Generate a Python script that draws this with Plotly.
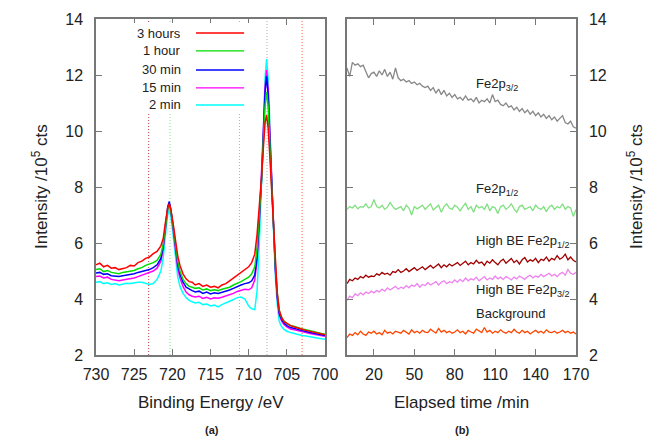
import plotly.graph_objects as go

# ---------------- data: panel (a) XPS spectra ----------------
energy = [730, 729.5, 729, 728.5, 728, 727.5, 727, 726.5, 726, 725.5,
          725, 724.5, 724, 723.5, 723, 722.5, 722, 721.5, 721.2, 720.9,
          720.6, 720.4, 720.2, 719.9, 719.6, 719.3, 719, 718.6, 718.2, 717.8,
          717.4, 717, 716.5, 716, 715.5, 715, 714.5, 714, 713.5, 713,
          712.5, 712, 711.5, 711, 710.5, 710, 709.6, 709.2, 708.9, 708.6,
          708.3, 708.05, 707.85, 707.65, 707.45, 707.25, 707.0, 706.75, 706.5, 706.25,
          706.0, 705.7, 705.4, 705.0, 704.5, 704, 703.5, 703, 702.5, 702,
          701.5, 701, 700.5, 700]

spec_3h = [5.22, 5.28, 5.15, 5.20, 5.10, 5.12, 5.05, 5.08, 5.12, 5.20,
           5.18, 5.30, 5.35, 5.45, 5.50, 5.62, 5.70, 5.90, 6.15, 6.75,
           7.25, 7.40, 7.20, 6.70, 6.10, 5.55, 5.20, 4.90, 4.72, 4.62,
           4.60, 4.50, 4.55, 4.45, 4.50, 4.42, 4.45, 4.40, 4.50, 4.55,
           4.65, 4.75, 4.85, 4.95, 5.05, 5.15, 5.30, 5.60, 6.30, 7.30,
           8.40, 9.50, 10.30, 10.57, 10.10, 9.20, 7.90, 6.60, 5.20, 4.20,
           3.60, 3.35, 3.20, 3.12, 3.05, 3.00, 2.95, 2.92, 2.88, 2.85,
           2.82, 2.78, 2.76, 2.72]
spec_1h = [5.05, 5.08, 4.98, 5.02, 4.95, 4.93, 4.90, 4.95, 4.98, 5.00,
           5.02, 5.08, 5.12, 5.20, 5.25, 5.30, 5.38, 5.60, 5.95, 6.60,
           7.20, 7.35, 7.15, 6.60, 5.95, 5.35, 5.00, 4.70, 4.55, 4.45,
           4.42, 4.38, 4.40, 4.32, 4.36, 4.30, 4.33, 4.30, 4.35, 4.38,
           4.42, 4.50, 4.55, 4.62, 4.70, 4.78, 4.90, 5.15, 5.80, 7.00,
           8.30, 9.80, 10.90, 11.40, 10.90, 9.60, 8.10, 6.70, 5.20, 4.20,
           3.60, 3.35, 3.22, 3.12, 3.05, 3.02, 2.97, 2.93, 2.90, 2.86,
           2.83, 2.80, 2.77, 2.74]
spec_30m = [4.93, 4.95, 4.88, 4.90, 4.83, 4.82, 4.80, 4.83, 4.85, 4.88,
            4.90, 4.95, 4.98, 5.02, 5.05, 5.12, 5.22, 5.45, 5.85, 6.60,
            7.30, 7.48, 7.20, 6.60, 5.90, 5.25, 4.90, 4.60, 4.42, 4.35,
            4.30, 4.25, 4.28, 4.20, 4.25, 4.18, 4.22, 4.20, 4.24, 4.27,
            4.32, 4.38, 4.45, 4.50, 4.55, 4.58, 4.65, 4.85, 5.50, 6.80,
            8.30, 10.00, 11.40, 11.95, 11.30, 9.90, 8.20, 6.70, 5.10, 4.10,
            3.50, 3.28, 3.15, 3.05, 2.98, 2.95, 2.90, 2.87, 2.84, 2.80,
            2.78, 2.75, 2.72, 2.70]
spec_15m = [4.80, 4.82, 4.75, 4.78, 4.70, 4.68, 4.65, 4.68, 4.70, 4.72,
            4.75, 4.80, 4.85, 4.90, 4.93, 5.00, 5.10, 5.35, 5.80, 6.55,
            7.25, 7.40, 7.15, 6.50, 5.80, 5.10, 4.75, 4.45, 4.25, 4.15,
            4.10, 4.07, 4.10, 4.02, 4.06, 4.00, 4.04, 4.03, 4.06, 4.10,
            4.15, 4.20, 4.27, 4.32, 4.35, 4.33, 4.40, 4.68, 5.40, 6.80,
            8.40, 10.20, 11.60, 12.18, 11.50, 10.00, 8.20, 6.60, 5.00, 4.00,
            3.45, 3.22, 3.10, 3.00, 2.93, 2.90, 2.86, 2.82, 2.80, 2.77,
            2.74, 2.72, 2.70, 2.67]
spec_2m = [4.60, 4.62, 4.55, 4.58, 4.52, 4.55, 4.50, 4.54, 4.56, 4.55,
           4.58, 4.60, 4.60, 4.55, 4.52, 4.55, 4.70, 5.00, 5.45, 6.30,
           7.00, 7.18, 6.95, 6.30, 5.50, 4.80, 4.45, 4.20, 4.05, 3.95,
           3.90, 3.86, 3.88, 3.80, 3.82, 3.75, 3.78, 3.72, 3.80, 3.85,
           3.92, 3.98, 4.05, 4.07, 4.00, 3.75, 3.65, 3.62, 4.30, 6.00,
           8.00, 10.20, 11.90, 12.57, 11.90, 10.20, 8.30, 6.50, 4.80, 3.80,
           3.20, 3.02, 2.92, 2.85, 2.80, 2.76, 2.72, 2.70, 2.68, 2.65,
           2.63, 2.60, 2.58, 2.56]

spec_names = ["3 hours", "1 hour", "30 min", "15 min", "2 min"]
spec_colors = ["#ff0000", "#00dd00", "#0000ff", "#ff00ff", "#00ffff"]
spectra = [spec_3h, spec_1h, spec_30m, spec_15m, spec_2m]

vline_energy = [723.1, 720.3, 711.2, 707.6, 703.0]
vline_colors = ["#c04848", "#80e080", "#e890e8", "#b0b0b0", "#ff6040"]

# ---------------- data: panel (b) time series ----------------
elapsed = list(range(0, 171, 2))

fe2p32 = [12.25, 11.95, 12.45, 12.35, 12.40, 12.30, 12.35, 12.15, 11.90, 12.05,
          12.10, 11.95, 12.15, 12.00, 12.20, 11.95, 12.10, 11.85, 12.25, 11.90,
          11.80, 11.85, 11.75, 11.80, 11.70, 11.75, 11.65, 11.70, 11.60, 11.55,
          11.60, 11.45, 11.55, 11.35, 11.50, 11.30, 11.45, 11.25, 11.35, 11.20,
          11.30, 11.15, 11.20, 11.10, 11.25, 11.10, 11.15, 11.05, 11.20, 11.00,
          11.10, 11.05, 11.15, 11.00, 11.30, 11.05, 11.10, 10.95, 10.90, 11.00,
          10.85, 10.90, 10.75, 10.85, 10.70, 10.80, 10.65, 10.75, 10.60, 10.70,
          10.55, 10.65, 10.50, 10.60, 10.45, 10.55, 10.40, 10.50, 10.35, 10.45,
          10.55, 10.30, 10.25, 10.35, 10.15, 10.10]
fe2p12 = [7.20, 7.30, 7.25, 7.35, 7.22, 7.30, 7.28, 7.40, 7.25, 7.30,
          7.55, 7.30, 7.25, 7.35, 7.20, 7.28, 7.45, 7.30, 7.20, 7.25,
          7.30, 7.15, 7.35, 7.25, 7.00, 7.30, 7.22, 7.28, 7.35, 7.20,
          7.30, 7.40, 7.18, 7.25, 7.35, 7.10, 7.30, 7.40, 7.25, 7.20,
          7.35, 7.28, 7.15, 7.30, 7.42, 7.20, 7.30, 7.10, 7.35, 7.25,
          7.30, 7.20, 7.40, 7.15, 7.30, 7.25, 7.05, 7.30, 7.35, 7.20,
          7.28, 7.40, 7.22, 7.10, 7.30, 7.35, 7.20, 7.25, 7.30, 7.15,
          7.35, 7.25, 7.20, 7.30, 7.12, 7.28, 7.35, 7.20, 7.30, 7.25,
          7.40, 7.20, 7.30, 7.25, 6.95, 7.20]
highbe_12 = [4.55, 4.70, 4.65, 4.75, 4.70, 4.80, 4.75, 4.85, 4.78, 4.82,
             4.80, 4.90, 4.85, 4.95, 4.88, 4.92, 4.85, 4.98, 4.95, 5.05,
             4.95, 5.00, 5.08, 4.98, 5.05, 5.12, 5.02, 5.10, 5.15, 5.05,
             5.12, 5.20, 5.10, 5.18, 5.25, 5.12, 5.22, 5.15, 5.25, 5.18,
             5.25, 5.30, 5.20, 5.28, 5.35, 5.22, 5.30, 5.25, 5.38, 5.28,
             5.32, 5.20, 5.35, 5.28, 5.40, 5.30, 5.22, 5.35, 5.42, 5.28,
             5.35, 5.45, 5.30, 5.38, 5.25, 5.40, 5.48, 5.32, 5.40, 5.35,
             5.45, 5.30, 5.42, 5.38, 5.50, 5.35, 5.45, 5.40, 5.55, 5.42,
             5.48, 5.60, 5.40, 5.50, 5.38, 5.32]
highbe_32 = [3.95, 4.10, 4.05, 4.18, 4.12, 4.22, 4.15, 4.25, 4.20, 4.28,
             4.22, 4.30, 4.25, 4.35, 4.28, 4.40, 4.32, 4.38, 4.45, 4.35,
             4.42, 4.38, 4.48, 4.40, 4.50, 4.45, 4.55, 4.42, 4.52, 4.48,
             4.58, 4.50, 4.55, 4.62, 4.50, 4.60, 4.65, 4.55, 4.62, 4.58,
             4.68, 4.60, 4.70, 4.62, 4.75, 4.65, 4.72, 4.68, 4.78, 4.65,
             4.72, 4.80, 4.68, 4.75, 4.70, 4.82, 4.72, 4.78, 4.70, 4.80,
             4.75, 4.68, 4.78, 4.72, 4.82, 4.75, 4.70, 4.80, 4.85, 4.75,
             4.82, 4.78, 4.88, 4.80, 4.85, 4.92, 4.82, 4.88, 4.80, 4.90,
             4.95, 4.85, 5.05, 4.92, 4.88, 4.95]
background = [2.62, 2.75, 2.70, 2.80, 2.72, 2.85, 2.75, 2.70, 2.82, 2.78,
              2.85, 2.75, 2.80, 2.72, 2.88, 2.78, 2.82, 2.75, 2.85, 2.80,
              2.78, 2.88, 2.82, 2.75, 2.90, 2.80, 2.85, 2.78, 2.88, 2.82,
              2.80, 2.92, 2.85, 2.78, 2.95, 2.82, 2.88, 2.80, 2.85, 2.78,
              2.82, 2.90, 2.80, 2.85, 2.75, 2.88, 2.82, 2.78, 2.92, 2.85,
              2.80, 2.98, 2.82, 2.88, 2.78, 2.85, 2.80, 2.90, 2.82, 2.78,
              2.85, 2.80, 2.92, 2.82, 2.78, 2.88, 2.80, 2.85, 2.75, 2.82,
              2.88, 2.80, 2.85, 2.78, 2.90, 2.82, 2.80, 2.85, 2.78, 2.82,
              2.88, 2.80, 2.85, 2.78, 2.82, 2.75]

time_series = [fe2p32, fe2p12, highbe_12, highbe_32, background]
time_colors = ["#888888", "#80e080", "#a00000", "#ee82ee", "#ff4500"]
time_labels = ["Fe2p<sub>3/2</sub>", "Fe2p<sub>1/2</sub>", "High BE Fe2p<sub>1/2</sub>",
               "High BE Fe2p<sub>3/2</sub>", "Background"]
label_pos_y = [11.65, 7.9, 6.05, 4.3, 3.5]
label_pos_t = 94

x_ticks_a = [730, 725, 720, 715, 710, 705, 700]
x_ticks_b = [20, 50, 80, 110, 140, 170]
y_ticks = [2, 4, 6, 8, 10, 12, 14]

for s in spectra:
    assert len(s) == len(energy), len(s)
for s in time_series:
    assert len(s) == len(elapsed), len(s)

# ---------------- figure ----------------
W, H = 647, 438
FONT = "Liberation Sans, Arial, sans-serif"
TXT = "#222222"
AX = "#777777"

fig = go.Figure()

# vertical dotted reference lines (panel a)
for e, c in zip(vline_energy, vline_colors):
    fig.add_trace(go.Scatter(x=[e, e], y=[y_ticks[0], y_ticks[-1]], mode="lines",
                             line=dict(color=c, width=1, dash="1px,2px"),
                             xaxis="x", yaxis="y", showlegend=False, hoverinfo="skip"))

# spectra, drawn so that 3 hours is on top
for name, col, s in reversed(list(zip(spec_names, spec_colors, spectra))):
    fig.add_trace(go.Scatter(x=energy, y=s, mode="lines", name=name,
                             line=dict(color=col, width=1.5),
                             xaxis="x", yaxis="y", showlegend=False))

# time series (panel b)
for lab, col, s in zip(time_labels, time_colors, time_series):
    fig.add_trace(go.Scatter(x=elapsed, y=s, mode="lines", name=lab,
                             line=dict(color=col, width=1.3),
                             xaxis="x2", yaxis="y2", showlegend=False))

# panel geometry in pixels
ax_l, ax_r = 96, 325
bx_l, bx_r = 347, 576
p_top, p_bot = 19, 355

def px(x):
    return x / W

def py(y):
    return 1 - y / H

axis_common = dict(showline=True, linecolor=AX, linewidth=1.5, mirror="ticks",
                   ticks="inside", ticklen=6, tickwidth=1.2, tickcolor=AX,
                   showgrid=False, zeroline=False, automargin=False,
                   tickfont=dict(family=FONT, size=16, color=TXT))

fig.update_layout(
    width=W, height=H,
    margin=dict(l=0, r=0, t=0, b=0, autoexpand=False),
    paper_bgcolor="white", plot_bgcolor="white",
    showlegend=False,
    xaxis=dict(domain=[px(ax_l), px(ax_r)], range=[730, 700], anchor="y",
               tickvals=x_ticks_a, ticklabelstandoff=4, **axis_common),
    yaxis=dict(domain=[py(p_bot), py(p_top)], range=[2, 14], anchor="x",
               tickvals=y_ticks, ticklabelstandoff=8, **axis_common),
    xaxis2=dict(domain=[px(bx_l), px(bx_r)], range=[0, 170], anchor="y2",
                tickvals=x_ticks_b, ticklabelstandoff=4, **axis_common),
    yaxis2=dict(domain=[py(p_bot), py(p_top)], range=[2, 14], anchor="x2",
                side="right", tickvals=y_ticks, ticklabelstandoff=8, **axis_common),
)

# opaque key box of panel (a) and its entries
fig.add_shape(type="rect", xref="x", yref="y", x0=726.2, x1=709.8, y0=10.64, y1=13.86,
              fillcolor="white", line=dict(width=0), layer="above")
key_rows = [13.5, 12.86, 12.18, 11.54, 10.93]
for name, col, yk in zip(spec_names, spec_colors, key_rows):
    fig.add_shape(type="line", xref="x", yref="y", x0=716.9, x1=710.6, y0=yk, y1=yk,
                  line=dict(color=col, width=1.4), layer="above")
    fig.add_annotation(x=718.6, y=yk, xref="x", yref="y", text=name, showarrow=False,
                       xanchor="right", yanchor="middle",
                       font=dict(family=FONT, size=13, color=TXT))

# series labels of panel (b)
for lab, yl in zip(time_labels, label_pos_y):
    fig.add_annotation(x=label_pos_t, y=yl, xref="x2", yref="y2", text=lab, showarrow=False,
                       xanchor="left", yanchor="middle",
                       font=dict(family=FONT, size=13, color=TXT))

# axis titles and panel captions
title_font = dict(family=FONT, size=17, color=TXT)
fig.add_annotation(x=px((ax_l + ax_r) / 2), y=py(402), xref="paper", yref="paper",
                   text="Binding Energy /eV", showarrow=False, font=title_font,
                   xanchor="center", yanchor="middle")
fig.add_annotation(x=px((bx_l + bx_r) / 2), y=py(402), xref="paper", yref="paper",
                   text="Elapsed time /min", showarrow=False, font=title_font,
                   xanchor="center", yanchor="middle")
fig.add_annotation(x=px(40), y=py((p_top + p_bot) / 2), xref="paper", yref="paper",
                   text="Intensity /10<sup>5</sup> cts", showarrow=False, font=title_font,
                   textangle=-90, xanchor="center", yanchor="middle")
fig.add_annotation(x=px(635), y=py((p_top + p_bot) / 2), xref="paper", yref="paper",
                   text="Intensity /10<sup>5</sup> cts", showarrow=False, font=title_font,
                   textangle=-90, xanchor="center", yanchor="middle")
cap_font = dict(family=FONT, size=11, color=TXT)
fig.add_annotation(x=px(212), y=py(430), xref="paper", yref="paper", text="<b>(a)</b>",
                   showarrow=False, font=cap_font, xanchor="center", yanchor="middle")
fig.add_annotation(x=px(462), y=py(430), xref="paper", yref="paper", text="<b>(b)</b>",
                   showarrow=False, font=cap_font, xanchor="center", yanchor="middle")

fig.write_html("out.html", config={"displayModeBar": False})

# remove the browser's default page margin so the figure sits at the window origin
with open("out.html", "r", encoding="utf-8") as fh:
    page = fh.read()
page = page.replace("<head>", "<head><style>html,body{margin:0;padding:0;overflow:hidden;}</style>", 1)
with open("out.html", "w", encoding="utf-8") as fh:
    fh.write(page)
